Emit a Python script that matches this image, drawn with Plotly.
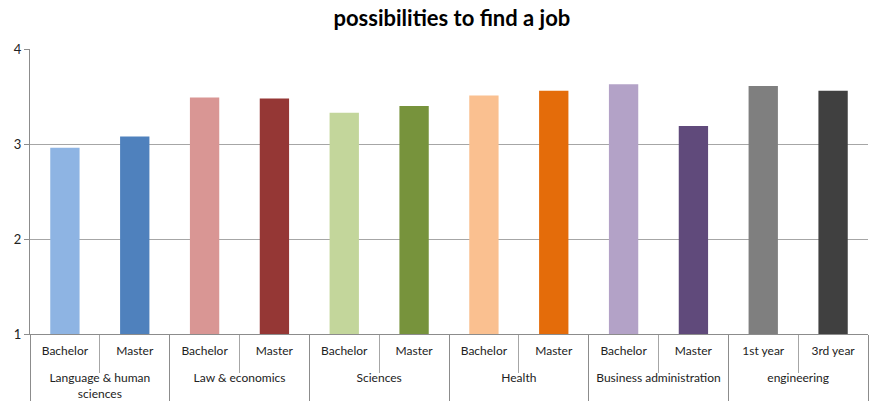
import plotly.graph_objects as go

groups = ["Language & human<br>sciences", "Language & human<br>sciences",
          "Law & economics", "Law & economics",
          "Sciences", "Sciences",
          "Health", "Health",
          "Business administration", "Business administration",
          "engineering", "engineering"]
levels = ["Bachelor", "Master", "Bachelor", "Master", "Bachelor", "Master",
          "Bachelor", "Master", "Bachelor", "Master", "1st year", "3rd year"]
values = [2.96, 3.08, 3.49, 3.48, 3.33, 3.40, 3.51, 3.56, 3.63, 3.19, 3.61, 3.56]
colors = ["#8EB4E3", "#4F81BD", "#D99694", "#953735", "#C3D69B", "#77933C",
          "#FAC090", "#E46C0A", "#B3A2C7", "#604A7B", "#7F7F7F", "#404040"]

FONT = "Lato, Carlito, Calibri, sans-serif"

# inner labels get a trailing blank line so the outer row sits lower, as in the reference
inner_labels = [lab + "<br> " for lab in levels]

fig = go.Figure(go.Bar(
    x=[groups, inner_labels],
    y=values,
    marker=dict(color=colors, line=dict(width=0)),
))

fig.update_layout(
    width=869, height=401,
    margin=dict(l=30, r=1, t=49, b=67, autoexpand=False),
    paper_bgcolor="white", plot_bgcolor="white",
    bargap=0.58,
    showlegend=False,
    font=dict(family=FONT, size=12, color="#222"),
    title=dict(text="<b>possibilities to find a job</b>", x=0.52, xanchor="center",
               y=0.955, yanchor="middle",
               font=dict(family=FONT, size=22, color="#000")),
)
fig.update_xaxes(
    type="multicategory", automargin=False,
    showline=True, linecolor="#8c8c8c", linewidth=1,
    showdividers=True, dividercolor="#8c8c8c", dividerwidth=1,
    ticks="outside", ticklen=38, tickcolor="#a6a6a6", tickson="boundaries",
    ticklabelstandoff=6,
    tickfont=dict(family=FONT, size=12, color="#222"),
)
fig.update_yaxes(
    range=[1, 4], dtick=1, tick0=1, automargin=False,
    showgrid=True, gridcolor="#a6a6a6", gridwidth=1,
    showline=True, linecolor="#8c8c8c", linewidth=1,
    ticks="outside", ticklen=5, tickcolor="#8c8c8c",
    tickfont=dict(family=FONT, size=13, color="#222"),
    zeroline=False,
)

fig.write_html("out.html",
               config={"displayModeBar": False},
               post_script="document.body.style.margin='0';document.body.style.padding='0';")
